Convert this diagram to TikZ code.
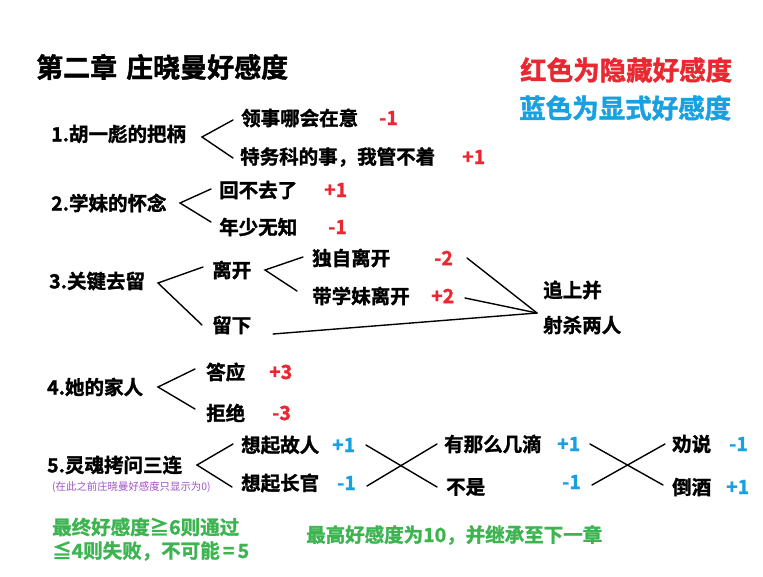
\documentclass[tikz,border=0pt]{standalone}
\usepackage{fontspec}
\setmainfont{Noto Sans CJK SC Bold}[FakeBold=1.5]
\newfontfamily\thinfont{Noto Sans CJK SC}
\definecolor{hred}{RGB}{235,40,50}
\definecolor{hblue}{RGB}{25,160,225}
\definecolor{hgreen}{RGB}{60,180,80}
\definecolor{hpurple}{RGB}{160,80,200}
\tikzset{
  lbl/.style={anchor=west,inner sep=0pt,font=\fontsize{19.5}{20}\selectfont,text=black},
  redv/.style={lbl,text=hred},
  bluev/.style={lbl,text=hblue},
  greent/.style={lbl,text=hgreen},
  conn/.style={draw=black,line width=1.4pt,line cap=round}
}
\begin{document}
\begin{tikzpicture}[x=1pt,y=-1pt]
\useasboundingbox[fill=white] (0,0) rectangle (763,576);
% title and legend
\node[lbl,font=\fontsize{27}{28}\selectfont] (title) at (36,67) {第二章\hspace{9pt}庄晓曼好感度};
\node[lbl,text=hred,font=\fontsize{26.5}{27}\selectfont] (leg1) at (520,70) {红色为隐藏好感度};
\node[lbl,text=hblue,font=\fontsize{26.5}{27}\selectfont] (leg2) at (519,108) {蓝色为显式好感度};

% section 1
\node[lbl] (q1) at (51,134) {1.胡一彪的把柄};
\node[lbl] (a11) at (241,118) {领事哪会在意};
\node[redv] (v11) at (379,118) {-1};
\node[lbl] (a12) at (240,157) {特务科的事，我管不着};
\node[redv] (v12) at (462,157) {+1};
\coordinate (b1) at (202,137);
\coordinate (b1t) at (233,120);
\coordinate (b1b) at (233,158);
\draw[conn] (b1t) -- (b1) -- (b1b);

% section 2
\node[lbl] (q2) at (51,203) {2.学妹的怀念};
\node[lbl] (a21) at (219,190) {回不去了};
\node[redv] (v21) at (324,190) {+1};
\node[lbl] (a22) at (219,227) {年少无知};
\node[redv] (v22) at (328,227) {-1};
\coordinate (b2) at (180,203);
\coordinate (b2t) at (211,189);
\coordinate (b2b) at (211,222);
\draw[conn] (b2t) -- (b2) -- (b2b);

% section 3
\node[lbl] (q3) at (49,281) {3.关键去留};
\node[lbl] (a31) at (212,270) {离开};
\node[lbl] (a32) at (212,325) {留下};
\coordinate (b3) at (158,283);
\coordinate (b3t) at (203,267);
\coordinate (b3b) at (202,325);
\draw[conn] (b3t) -- (b3) -- (b3b);
\node[lbl] (a311) at (312,258) {独自离开};
\node[redv] (v311) at (434,258) {-2};
\node[lbl] (a312) at (312,296) {带学妹离开};
\node[redv] (v312) at (431,296) {+2};
\coordinate (b31) at (265,270);
\coordinate (b31t) at (303,257);
\coordinate (b31b) at (297,291);
\draw[conn] (b31t) -- (b31) -- (b31b);
\node[lbl] (k1) at (543,290) {追上并};
\node[lbl] (k2) at (543,325) {射杀两人};
\coordinate (kj) at (537,313);
\coordinate (s1) at (467,258);
\coordinate (s2) at (465,298);
\coordinate (s3) at (273,334);
\draw[conn] (s1) -- (kj);
\draw[conn] (s2) -- (kj);
\draw[conn] (s3) -- (kj);

% section 4
\node[lbl] (q4) at (47,387) {4.她的家人};
\node[lbl] (a41) at (206,372) {答应};
\node[redv] (v41) at (269,372) {+3};
\node[lbl] (a42) at (206,413) {拒绝};
\node[redv] (v42) at (272,413) {-3};
\coordinate (b4) at (158,387);
\coordinate (b4t) at (195,369);
\coordinate (b4b) at (195,409);
\draw[conn] (b4t) -- (b4) -- (b4b);

% section 5
\node[lbl] (q5) at (47,465) {5.灵魂拷问三连};
\node[anchor=west,inner sep=0pt,text=hpurple,font=\thinfont\fontsize{10.4}{11}\selectfont] (note) at (52,487) {(在此之前庄晓曼好感度只显示为0)};
\node[lbl] (a51) at (241,445) {想起故人};
\node[bluev] (v51) at (332,445) {+1};
\node[lbl] (a52) at (241,483) {想起长官};
\node[bluev] (v52) at (337,483) {-1};
\coordinate (b5) at (197,465);
\coordinate (b5t) at (233,444);
\coordinate (b5b) at (232,487);
\draw[conn] (b5t) -- (b5) -- (b5b);
\node[lbl] (a53) at (444,444) {有那么几滴};
\node[bluev] (v53) at (557,444) {+1};
\node[lbl] (a54) at (446,487) {不是};
\node[bluev] (v54) at (562,482) {-1};
\coordinate (x1a) at (366,445);
\coordinate (x1b) at (437,487);
\coordinate (x1c) at (367,486);
\coordinate (x1d) at (437,444);
\draw[conn] (x1a) -- (x1b);
\draw[conn] (x1c) -- (x1d);
\node[lbl] (a55) at (672,444) {劝说};
\node[bluev] (v55) at (729,444) {-1};
\node[lbl] (a56) at (672,487) {倒酒};
\node[bluev] (v56) at (726,487) {+1};
\coordinate (x2a) at (590,444);
\coordinate (x2b) at (663,485);
\coordinate (x2c) at (592,485);
\coordinate (x2d) at (665,444);
\draw[conn] (x2a) -- (x2b);
\draw[conn] (x2c) -- (x2d);

% green notes
\node[greent] (g1) at (52,527) {最终好感度≧6则通过};
\node[greent] (g2) at (52,551) {≦4则失败，不可能\,=\,5};
\node[greent] (g3) at (306,535) {最高好感度为10，并继承至下一章};
\end{tikzpicture}
\end{document}
